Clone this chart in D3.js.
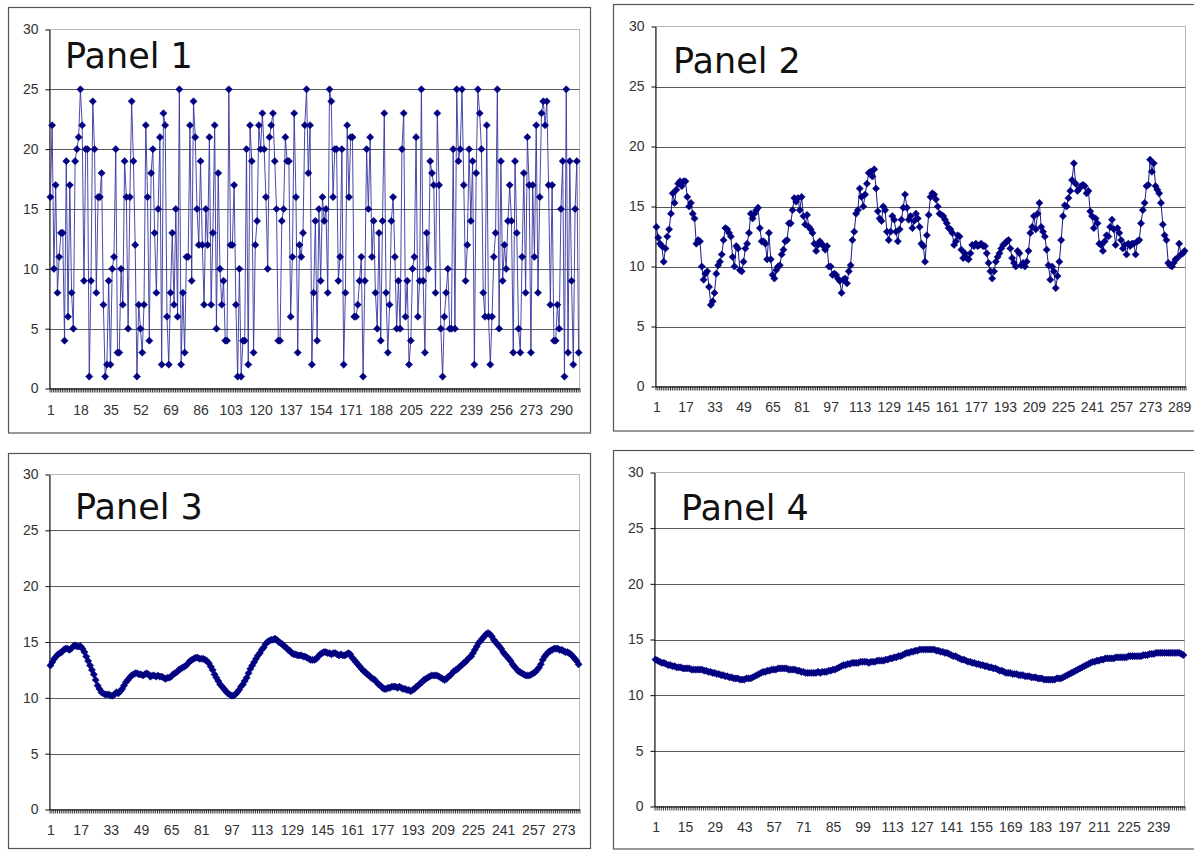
<!DOCTYPE html>
<html><head><meta charset="utf-8">
<script src="https://cdn.jsdelivr.net/npm/d3@7"></script>
<style>body{margin:0;background:#fff;} svg{display:block;}</style>
</head><body>
<svg id="c" width="1194" height="850"></svg>
<script>
const panel1Values = [
16,22,10,17,8,11,13,13,4,19,
6,17,8,5,19,20,21,25,22,9,
20,20,1,9,24,20,8,16,16,18,
7,1,2,9,2,10,11,20,3,3,
10,7,19,16,5,16,24,19,12,1,
7,5,3,7,22,16,4,18,20,13,
8,15,21,2,23,22,6,2,8,13,
7,15,6,25,2,8,3,11,11,22,
9,24,21,15,12,19,12,7,15,12,
21,7,13,22,5,18,
10,7,9,4,4,25,12,12,17,7,1,10,1,4,4,20,
2,22,19,3,12,14,22,20,23,20,16,10,21,22,23,19,15,4,4,14,15,21,19,19,6,11,23,16,3,12,11,13,22,25,
18,22,2,8,14,4,15,9,16,14,15,8,25,
24,16,20,20,9,11,20,2,8,22,16,21,21,6,6,7,9,11,1,
9,20,15,21,11,14,8,5,13,4,14,23,
8,3,7,14,16,11,5,
9,5,20,23,6,9,2,4,10,11,
21,6,9,25,9,3,13,10,19,18,
17,8,23,17,5,1,6,8,10,5,
5,20,5,25,19,20,25,17,9,12,
20,14,19,2,18,25,23,20,8,6,
22,6,2,6,11,13,25,5,19,9,
12,10,14,17,14,3,19,13,5,3,
11,18,8,21,17,3,17,11,22,8,
16,23,24,22,24,17,7,17,4,4,
7,5,15,19,1,25,3,19,9,2,
15,19,3
];

const panel2Values = [
13.3,12.4,11.9,11.7,10.4,11.5,12.5,13.1,14.4,16.1,
15.3,16.4,16.9,17.1,16.7,17.1,17.1,15.8,15.0,15.3,
14.4,14.0,11.9,12.2,12.1,10.0,8.9,9.4,9.6,8.3,
6.8,7.1,7.8,9.4,10.1,10.4,11.0,12.2,13.2,13.1,
12.8,12.5,10.8,10.0,11.7,11.5,9.7,9.6,10.4,11.5,
11.9,12.8,14.4,14.0,14.4,14.7,14.9,13.2,12.1,12.1,
11.9,10.6,12.8,10.6,9.3,9.0,9.7,10.0,10.1,11.0,
11.4,12.1,12.2,13.6,13.6,14.7,15.7,15.4,15.7,14.7,
15.8,14.2,13.5,14.3,13.3,13.1,12.8,11.9,11.3,11.8,
12.1,11.9,11.7,11.4,11.7,10.0,10.0,9.3,9.4,9.3,
9.0,8.8,7.8,8.9,9.0,8.6,9.6,10.1,12.2,12.9,
14.4,14.7,16.5,15.8,15.0,16.0,16.9,17.8,17.9,17.5,
18.1,16.5,14.6,14.0,13.8,15.0,14.7,12.9,12.2,12.9,
14.2,13.9,12.9,12.1,13.1,13.9,14.9,16.0,
14.9,13.9,14.2,13.2,13.8,14.4,14.0,13.3,11.9,11.7,
10.4,12.6,14.3,15.8,16.1,16.0,15.6,15.0,14.4,14.3,
14.2,13.9,13.6,13.2,13.1,12.8,11.8,12.1,12.6,12.5,
11.4,10.7,11.1,10.7,10.6,11.1,11.8,11.7,11.9,11.7,
11.8,11.9,11.7,11.7,11.1,10.3,9.6,9.0,9.6,10.4,
10.8,11.1,11.5,11.8,11.9,12.1,12.2,11.5,10.7,10.3,
10.0,11.3,11.1,10.1,10.3,10.0,10.4,11.3,12.8,13.3,
14.2,13.1,14.4,15.3,13.3,12.9,12.5,11.4,10.1,8.9,
10.0,9.6,8.2,9.2,10.4,12.2,14.2,15.1,15.0,15.7,
16.3,17.2,18.6,16.9,16.3,16.5,16.7,16.8,16.7,16.1,
16.3,14.6,14.2,13.2,14.0,13.6,11.9,11.8,11.3,12.1,
12.6,12.5,13.3,13.9,13.1,11.8,13.2,12.8,12.2,11.5,
11.8,11.0,11.9,11.7,11.9,11.9,11.0,12.1,12.2,13.6,
14.7,15.3,16.7,16.8,18.9,17.9,18.6,16.7,16.4,16.1,
15.3,13.5,12.6,12.2,10.3,10.1,10.0,10.3,10.6,10.7,
11.9,11.0,11.1,11.3
];

const panel3Values = [
12.9,13.2,13.5,13.7,13.9,14.0,14.1,14.3,14.4,14.4,
14.3,14.4,14.6,14.7,14.6,14.6,14.6,14.4,14.1,13.7,
13.3,12.9,12.5,12.1,11.6,11.1,10.8,10.5,10.4,10.3,
10.3,10.3,10.2,10.2,10.3,10.5,10.4,10.6,10.8,11.1,
11.4,11.6,11.8,12.0,12.1,12.2,12.2,12.1,12.1,12.0,
12.1,12.2,12.1,11.9,12.0,12.0,11.9,12.0,11.9,11.9,
11.8,11.7,11.8,11.8,11.9,12.1,12.2,12.3,12.5,12.6,
12.7,12.8,12.9,13.1,13.3,13.4,13.5,13.6,13.6,13.5,
13.5,13.5,13.4,13.3,13.1,12.8,12.5,12.1,11.8,11.5,
11.2,11.0,10.8,10.6,10.4,10.3,10.2,10.2,10.3,10.5,
10.7,11.0,11.2,11.5,11.8,12.2,12.6,12.9,13.2,13.5,
13.8,14.0,14.3,14.5,14.8,15.0,15.1,15.2,15.2,15.3,
15.2,15.0,14.9,14.8,14.6,14.5,14.3,14.2,14.0,13.9,
13.9,13.8,13.8,13.8,13.7,13.7,13.6,13.5,13.4,13.4,
13.4,13.5,13.7,13.9,14.0,14.1,14.1,14.0,14.0,13.9,
14.0,14.0,13.9,13.8,13.9,13.8,13.8,13.9,14.0,13.9,
13.6,13.4,13.2,13.0,12.8,12.6,12.4,12.3,12.1,12.0,
11.8,11.7,11.6,11.4,11.2,11.1,10.9,10.8,10.8,10.9,
10.9,11.0,11.0,11.0,10.9,11.0,10.9,10.8,10.8,10.7,
10.7,10.6,10.7,10.8,11.0,11.1,11.3,11.4,11.6,11.7,
11.8,11.9,12.0,12.0,12.0,12.0,11.9,11.8,11.7,11.6,
11.7,11.9,12.0,12.2,12.4,12.5,12.6,12.8,12.9,13.1,
13.2,13.4,13.6,13.7,14.0,14.3,14.6,14.9,15.1,15.3,
15.5,15.7,15.8,15.7,15.5,15.2,15.0,14.8,14.6,14.4,
14.1,13.9,13.7,13.5,13.3,13.0,12.8,12.6,12.4,12.3,
12.2,12.1,12.0,12.0,12.0,12.1,12.2,12.3,12.5,12.7,
13.0,13.4,13.7,13.9,14.1,14.2,14.3,14.4,14.4,14.4,
14.3,14.3,14.2,14.1,14.1,14.0,13.9,13.7,13.5,13.3,
13.0
];

const panel4Values = [
13.2,13.1,13.0,12.9,12.9,12.8,12.7,12.7,12.6,12.6,
12.5,12.5,12.5,12.4,12.4,12.4,12.4,12.3,12.3,12.3,
12.3,12.3,12.3,12.2,12.2,12.1,12.1,12.0,12.0,11.9,
11.9,11.8,11.8,11.7,11.7,11.6,11.6,11.5,11.5,11.5,
11.4,11.4,11.4,11.5,11.5,11.5,11.6,11.7,11.8,11.9,
12.0,12.1,12.1,12.2,12.2,12.3,12.3,12.3,12.4,12.4,
12.4,12.4,12.4,12.3,12.3,12.3,12.3,12.2,12.2,12.1,
12.1,12.0,12.0,12.0,12.0,12.0,12.0,12.1,12.0,12.1,
12.1,12.1,12.2,12.2,12.3,12.3,12.4,12.5,12.6,12.7,
12.7,12.8,12.8,12.9,12.9,12.9,12.9,13.0,13.0,13.0,
13.0,12.9,13.0,13.0,13.0,13.1,13.1,13.1,13.1,13.2,
13.2,13.3,13.3,13.4,13.4,13.5,13.5,13.6,13.7,13.8,
13.8,13.9,13.9,14.0,14.0,14.1,14.1,14.1,14.1,14.1,
14.1,14.1,14.1,14.0,14.0,13.9,13.9,13.8,13.8,13.7,
13.6,13.5,13.5,13.4,13.3,13.2,13.2,13.1,13.0,13.0,
12.9,12.9,12.8,12.8,12.7,12.7,12.6,12.6,12.5,12.5,
12.4,12.4,12.3,12.2,12.2,12.1,12.0,12.0,12.0,11.9,
11.9,11.9,11.8,11.8,11.8,11.7,11.7,11.7,11.6,11.6,
11.6,11.5,11.5,11.5,11.4,11.4,11.4,11.4,11.4,11.4,
11.5,11.5,11.5,11.6,11.7,11.8,11.9,12.0,12.1,12.2,
12.3,12.4,12.5,12.6,12.7,12.8,12.9,13.0,13.0,13.1,
13.1,13.2,13.2,13.3,13.3,13.3,13.3,13.3,13.4,13.4,
13.4,13.4,13.4,13.4,13.5,13.5,13.5,13.5,13.5,13.5,
13.5,13.6,13.6,13.6,13.7,13.7,13.7,13.8,13.8,13.8,
13.8,13.8,13.8,13.8,13.8,13.8,13.8,13.8,13.8,13.7,
13.6
];

const xLabels1 = [1,18,35,52,69,86,103,120,137,154,171,188,205,222,239,256,273,290];
const xLabels2 = [1,17,33,49,65,81,97,113,129,145,161,177,193,209,225,241,257,273,289];
const xLabels3 = [1,17,33,49,65,81,97,113,129,145,161,177,193,209,225,241,257,273];
const xLabels4 = [1,15,29,43,57,71,85,99,113,127,141,155,169,183,197,211,225,239];
const yTicks = [0,5,10,15,20,25,30];
const titles = ["Panel 1","Panel 2","Panel 3","Panel 4"];

const layout = [
  {frame:[8.5,7.5,582,425.5], plot:[49.5,29.5,579.5,388.5], tx:65, ty:68, lp:17, lineColor:"#3535a0", lineW:0.9},
  {frame:[613.5,4.5,600,426.5], plot:[655.5,26.5,1185.5,386.5], tx:673, ty:73, lp:15.5, lineColor:"#1a1a8c", lineW:1},
  {frame:[8.5,453.5,582,395], plot:[49.5,474.5,579.5,809.5], tx:75, ty:519, lp:15.5, lineColor:"#000080", lineW:1},
  {frame:[613.5,450.5,600,398.5], plot:[654.5,472.5,1184.5,806.5], tx:681, ty:520, lp:15.5, lineColor:"#000080", lineW:1}
];
const series = [panel1Values, panel2Values, panel3Values, panel4Values];
const labelSets = [xLabels1, xLabels2, xLabels3, xLabels4];

const svg = d3.select("#c");
const NAVY = "#000080";
const FONT = "'Liberation Sans', Arial, sans-serif";

series.forEach((vals, p) => {
  const L = layout[p];
  const [l, t, r, b] = L.plot;
  const n = vals.length;
  const g = svg.append("g");

  g.append("rect").attr("x", L.frame[0]).attr("y", L.frame[1])
    .attr("width", L.frame[2]).attr("height", L.frame[3])
    .attr("fill", "#fff").attr("stroke", "#555").attr("stroke-width", 1.2);

  const y = d3.scaleLinear().domain([0, 30]).range([b, t]);
  const xp = d3.scalePoint().domain(d3.range(1, n + 1)).range([l, r]).padding(0.5);
  const xb = d3.scaleLinear().domain([0.5, n + 0.5]).range([l, r]);

  g.append("rect").attr("x", l).attr("y", t).attr("width", r - l).attr("height", b - t)
    .attr("fill", "#fff").attr("stroke", "#b8b8b8").attr("stroke-width", 1);

  g.selectAll("line.grid").data(yTicks.filter(v => v > 0 && v < 30)).enter()
    .append("line").attr("class", "grid")
    .attr("x1", l).attr("x2", r)
    .attr("y1", d => Math.round(y(d)) + 0.5).attr("y2", d => Math.round(y(d)) + 0.5)
    .attr("stroke", "#5a5a5a").attr("stroke-width", 1);

  const ya = g.append("g").attr("transform", `translate(${l},0)`)
    .call(d3.axisLeft(y).tickValues(yTicks).tickSize(4).tickSizeOuter(0).tickPadding(7));
  ya.select(".domain").attr("stroke", "#000");
  ya.selectAll(".tick line").attr("stroke", "#000");
  ya.selectAll("text").attr("font-family", FONT).attr("font-size", 14).attr("fill", "#333");

  const xt = g.append("g").attr("transform", `translate(0,${b})`)
    .call(d3.axisBottom(xb).tickValues(d3.range(0, n + 1).map(k => k + 0.5))
      .tickSize(4).tickSizeOuter(0).tickFormat(""));
  xt.select(".domain").attr("stroke", "#000");
  xt.selectAll(".tick line").attr("stroke", "#000").attr("stroke-width", 0.8);

  const xl = g.append("g").attr("transform", `translate(0,${b})`)
    .call(d3.axisBottom(xp).tickValues(labelSets[p]).tickSize(0).tickPadding(L.lp));
  xl.select(".domain").remove();
  xl.selectAll("text").attr("font-family", FONT).attr("font-size", 14).attr("fill", "#333");

  const line = d3.line().x((d, i) => xp(i + 1)).y(d => y(d));
  g.append("path").datum(vals).attr("d", line)
    .attr("fill", "none").attr("stroke", L.lineColor).attr("stroke-width", L.lineW);

  const sym = d3.symbol().type(d3.symbolSquare).size(26);
  g.selectAll("path.mk").data(vals).enter().append("path").attr("class", "mk")
    .attr("d", sym)
    .attr("transform", (d, i) => `translate(${xp(i + 1)},${y(d)}) rotate(45)`)
    .attr("fill", NAVY).attr("stroke", NAVY).attr("stroke-width", 0.5);

  g.append("text").attr("x", L.tx).attr("y", L.ty)
    .attr("font-family", "'DejaVu Sans', Verdana, sans-serif").attr("font-size", 35)
    .attr("fill", "#111").text(titles[p]);
});
</script>
</body></html>
